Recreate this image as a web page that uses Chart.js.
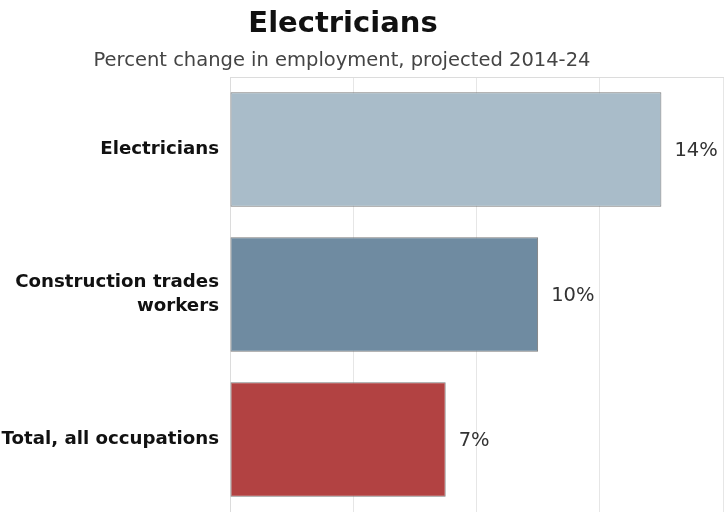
<!DOCTYPE html>
<html lang="en">
<head>
  <title>Electricians</title>
  <script src="https://cdn.jsdelivr.net/npm/chart.js@4.4.0/dist/chart.umd.min.js"></script>
  <style>
    html, body { margin: 0; padding: 0; background: #fff; }
    #wrap { width: 724px; height: 512px; }
  </style>
</head>
<body>
  <div id="wrap"><canvas id="chart"></canvas></div>
  <script>
    // data
    const titleText = 'Electricians';
    const subtitleText = 'Percent change in employment, projected 2014-24';
    const categories = [['Electricians'], ['Construction trades', 'workers'], ['Total, all occupations']];
    const values = [14, 10, 7];
    const valueLabels = ['14%', '10%', '7%'];
    const barColors = ['#a9bcc9', '#6f8ba1', '#b24242'];

    // title + subtitle, centred a bit left of the canvas middle like the original
    const headerPlugin = {
      id: 'header',
      afterDraw(chart) {
        const ctx = chart.ctx;
        ctx.save();
        ctx.textAlign = 'center';
        ctx.textBaseline = 'alphabetic';
        ctx.fillStyle = '#111';
        ctx.font = 'bold 29px "DejaVu Sans", sans-serif';
        ctx.fillText(titleText, 343, 32);
        ctx.fillStyle = '#444';
        ctx.font = '19.5px "DejaVu Sans", sans-serif';
        ctx.fillText(subtitleText, 342, 66);
        ctx.restore();
      }
    };

    // value labels to the right of each bar
    const valueLabelPlugin = {
      id: 'valueLabels',
      afterDatasetsDraw(chart) {
        const ctx = chart.ctx;
        const meta = chart.getDatasetMeta(0);
        ctx.save();
        ctx.fillStyle = '#333';
        ctx.font = '19.5px "DejaVu Sans", sans-serif';
        ctx.textAlign = 'left';
        ctx.textBaseline = 'middle';
        meta.data.forEach((bar, i) => {
          ctx.fillText(valueLabels[i], bar.x + 13, bar.y + 1);
        });
        ctx.restore();
      }
    };

    new Chart(document.getElementById('chart'), {
      type: 'bar',
      data: {
        labels: categories,
        datasets: [{
          data: values,
          backgroundColor: barColors,
          borderColor: '#7a7a7a',
          borderWidth: 1,
          borderSkipped: false,
          categoryPercentage: 1,
          barPercentage: 0.79
        }]
      },
      options: {
        indexAxis: 'y',
        responsive: true,
        maintainAspectRatio: false,
        animation: false,
        layout: { padding: { top: 77, right: 1, bottom: 0, left: 0 } },
        plugins: {
          legend: { display: false },
          tooltip: { enabled: false },
          title: { display: false }
        },
        scales: {
          x: {
            position: 'top',
            min: 0,
            max: 16,
            ticks: { display: false, stepSize: 4 },
            grid: { color: '#e6e6e6', drawTicks: false },
            border: { color: '#dcdcdc' }
          },
          y: {
            ticks: {
              color: '#111',
              font: { family: '"DejaVu Sans", sans-serif', size: 18.2, weight: 'bold', lineHeight: 1.3 },
              padding: 11
            },
            grid: { display: false, drawTicks: false },
            border: { color: '#dcdcdc' },
            // fixed label column, and let the bars run to the bottom edge
            afterFit(scale) {
              scale.width = 230;
              scale.paddingTop = 0;
              scale.paddingBottom = 0;
            }
          }
        }
      },
      plugins: [headerPlugin, valueLabelPlugin]
    });
  </script>
</body>
</html>
